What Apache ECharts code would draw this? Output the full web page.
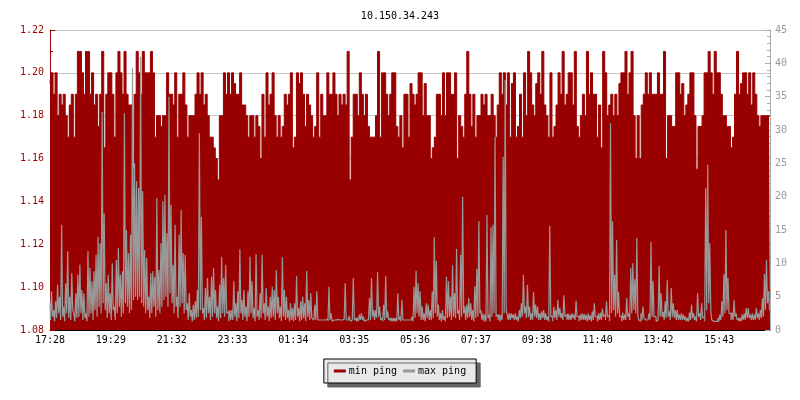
<!DOCTYPE html>
<html>
<head>
<meta charset="utf-8">
<script src="https://cdn.jsdelivr.net/npm/echarts@6/dist/echarts.min.js"></script>
<style>
html,body{margin:0;padding:0;background:#fff;}
#chart{width:800px;height:400px;}
</style>
</head>
<body>
<div id="chart"></div>
<script>
var titleText = "10.150.34.243";
var seriesNames = ["min ping", "max ping"];
var tickLabels = ["17:28","19:29","21:32","23:33","01:34","03:35","05:36","07:37","09:38","11:40","13:42","15:43"];
var tickEvery = 30;

var minPing = [
1.195,1.20,1.19,1.20,1.18,1.19,1.185,1.19,1.18,1.17,
1.185,1.19,1.17,1.19,1.21,1.21,1.20,1.19,1.21,1.21,
1.19,1.20,1.185,1.19,1.175,1.19,1.21,1.165,1.19,1.20,
1.20,1.19,1.17,1.20,1.21,1.20,1.19,1.21,1.19,1.185,
1.185,1.155,1.19,1.21,1.20,1.19,1.21,1.20,1.20,1.20,
1.21,1.20,1.17,1.18,1.18,1.175,1.18,1.18,1.20,1.19,
1.19,1.185,1.20,1.17,1.19,1.19,1.20,1.185,1.17,1.18,
1.18,1.18,1.19,1.20,1.19,1.20,1.185,1.19,1.18,1.17,
1.17,1.165,1.16,1.15,1.18,1.18,1.20,1.19,1.20,1.19,
1.20,1.195,1.19,1.19,1.20,1.185,1.185,1.18,1.17,1.18,
1.18,1.17,1.18,1.175,1.16,1.19,1.17,1.20,1.185,1.19,
1.20,1.18,1.17,1.18,1.17,1.175,1.19,1.185,1.19,1.20,
1.165,1.17,1.20,1.195,1.20,1.19,1.175,1.19,1.185,1.18,
1.17,1.175,1.20,1.17,1.19,1.18,1.18,1.20,1.19,1.19,
1.20,1.19,1.18,1.19,1.185,1.19,1.185,1.21,1.15,1.17,
1.19,1.19,1.18,1.20,1.19,1.18,1.19,1.175,1.17,1.17,
1.17,1.18,1.21,1.17,1.20,1.20,1.19,1.18,1.19,1.20,
1.20,1.175,1.17,1.18,1.165,1.19,1.19,1.17,1.195,1.19,
1.185,1.19,1.20,1.20,1.18,1.195,1.18,1.18,1.16,1.165,
1.17,1.19,1.19,1.18,1.20,1.18,1.20,1.20,1.19,1.19,
1.20,1.16,1.18,1.175,1.17,1.19,1.21,1.19,1.175,1.19,
1.17,1.18,1.18,1.19,1.185,1.19,1.18,1.18,1.19,1.18,
1.17,1.185,1.20,1.19,1.20,1.185,1.20,1.17,1.195,1.20,
1.17,1.175,1.19,1.17,1.20,1.18,1.21,1.20,1.185,1.18,
1.195,1.20,1.19,1.21,1.185,1.18,1.17,1.20,1.17,1.175,
1.185,1.20,1.19,1.21,1.185,1.19,1.20,1.20,1.185,1.21,
1.175,1.17,1.18,1.19,1.18,1.21,1.19,1.20,1.19,1.19,
1.17,1.185,1.165,1.21,1.20,1.18,1.185,1.19,1.18,1.19,
1.18,1.195,1.20,1.20,1.21,1.19,1.20,1.21,1.18,1.16,
1.18,1.16,1.185,1.19,1.20,1.19,1.20,1.19,1.19,1.19,
1.20,1.19,1.19,1.21,1.16,1.18,1.18,1.175,1.175,1.20,
1.20,1.19,1.195,1.18,1.185,1.19,1.20,1.20,1.18,1.155,
1.175,1.175,1.18,1.20,1.20,1.21,1.20,1.19,1.21,1.20,
1.20,1.19,1.18,1.18,1.175,1.175,1.165,1.17,1.19,1.21,
1.19,1.195,1.20,1.20,1.19,1.20,1.185,1.20,1.19,1.18,
1.175,1.18,1.18,1.18,1.18,1.18
];

// max ping: highest reading in each column
var maxPingHigh = [
4,5.8,3,4.3,6.8,5,15.8,3.5,7,11.8,
5,8.5,2.5,5.5,8.3,9.8,6,5.5,2.5,11.8,
9.3,7.3,8.8,11.3,14,13,32.7,17.5,7,8.3,
5.5,10,3.5,10.5,12.3,8.3,8.8,32.5,15,11.5,
14.3,39.3,25,22.3,21.3,41,20.8,12,10.8,5,
8.5,8.8,8,19.8,9,13,19.3,20.3,14.5,35,
18.8,9.8,15.8,5,14.3,18,11.5,11.3,4,5.5,
3,3.8,4.3,6,29.5,17,3.3,6.3,7.8,5,
8,9.3,6,3.5,6.8,11,7.8,9.8,2.8,3,
3,7.3,4,5.8,12.1,4.5,6,3.5,5.8,11,
7.3,3.3,11.4,3,5.5,11.3,4,6.3,3.5,5,
6.5,6,9,5,3.5,10.9,6,5,3,4,
3.3,4,8.1,3.3,4.3,5,4,8.9,4.5,5.5,
1.5,3.8,5.8,1.5,1.5,1.5,1.5,1.7,6.5,2.5,
1.5,1.5,1.6,1.5,1.5,1.6,7,1.5,2.1,1.5,
7.8,1.8,1.8,2.3,2.5,2,1.5,1.5,4.8,7.8,
3,3,8.7,3.5,1.8,3.8,8.1,2.8,1.8,1.8,
1.8,1.8,5.5,2,4.5,1.5,1.5,1.5,1.5,2,
6.5,8.9,7,5.8,3.5,2.5,4,3.8,3,5.8,
13.9,10.4,3.8,2.5,3,2,8,7.3,5,9.7,
5.5,12.2,3,11.3,20,3.5,3.8,4.8,4,3,
6.6,9.2,16.3,3,2.5,2.3,17.3,2.3,15.4,15.8,
29,2.3,2.3,2.3,26,37.5,2.3,2.5,2.5,2.3,
2.5,2,3,4,8.3,3.5,6.8,3.5,2.5,5.7,
3.8,3.5,2.5,2.8,3,2.5,2,15.6,2,3.5,
3,4.5,3.3,2.5,5.2,2.3,2.5,2.3,2.5,2.3,
4.4,2,2.3,2.5,2.4,2.3,2.5,2.2,2.8,4,
2,2.5,2.6,3.2,2.3,4.3,2.2,31,16.3,8.3,
13.5,5.7,2,2.6,2.3,4.8,2.5,9.3,10,7.6,
13.8,1.5,2.5,3.5,1.5,1.5,2.5,13.2,7.4,2,
1.5,9.6,5.5,2.7,4.3,7.5,2.8,6.3,4,3,
3,2.3,2.5,2.3,2,1.8,2.6,3.8,2.5,2,
5.5,2.5,4,2,21.3,24.8,13,1.5,1.5,1.5,
1.8,2.3,4.3,8.4,15,7.8,2.5,2.6,4.5,2.5,
1.8,1.8,2.3,2.5,3.3,3.3,2.3,2.5,2.3,3.3,
2.5,3,4.8,8.4,10.5,5.8
];

// max ping: lowest reading in each column
var maxPingLow = [
1.5,2,1.3,1.8,2.5,1.5,2,1.3,2.5,1.8,
1.5,3,1.3,1.8,2,2.5,1.5,1.8,1.3,2,
2.5,1.5,3,2,3.5,2.5,4,3,1.8,2.5,
1.5,3,1.5,2.5,3.5,2,2.5,4,3.5,2.5,
3,4.5,5,4.5,5,4,3.5,2.5,3,1.8,
2.5,3.5,2,3,2.5,3.5,4.5,5,3.5,5.5,
4,2.5,3.5,1.8,3.5,4,2.5,3,1.5,2,
1.3,1.5,1.8,2,3,2.5,1.5,1.8,2.5,1.5,
2,2.5,1.8,1.3,1.8,2.5,2,2.5,1.3,1.5,
1.5,2,1.3,1.8,2.5,1.5,2,1.3,2,2.5,
1.8,1.3,2,1.5,1.8,2.5,1.5,2,1.3,1.8,
2,1.5,2.5,1.8,1.3,2,1.5,1.8,1.3,1.5,
1.3,1.5,2,1.3,1.5,1.8,1.3,2,1.5,1.8,
1.3,1.5,1.5,1.3,1.3,1.3,1.3,1.3,1.5,1.3,
1.3,1.3,1.3,1.3,1.3,1.3,1.5,1.3,1.3,1.3,
1.5,1.3,1.3,1.5,1.5,1.3,1.3,1.3,1.5,2,
1.5,1.8,2,1.5,1.3,1.5,1.8,1.5,1.3,1.3,
1.3,1.3,1.5,1.3,1.5,1.3,1.3,1.3,1.3,1.3,
1.8,2.5,2,1.5,1.5,1.3,1.8,1.5,1.5,1.8,
2.5,2,1.5,1.3,1.5,1.3,1.8,2,1.5,2,
1.8,2.5,1.5,2,2.5,1.5,1.8,2,1.5,1.3,
1.8,2,2.5,1.5,1.3,1.3,1.8,1.3,2,2.5,
2,1.5,1.3,1.5,2.5,3,1.5,1.5,1.8,1.5,
1.5,1.3,1.8,2,2.5,1.8,2,1.5,1.5,2,
1.8,1.5,1.5,1.8,1.5,1.5,1.3,2,1.3,1.8,
1.5,2,1.8,1.5,2,1.5,1.5,1.5,1.8,1.5,
2,1.3,1.5,1.5,1.5,1.3,1.5,1.3,1.5,2,
1.3,1.5,1.5,2,1.5,2,1.3,2.5,3,2,
2.5,2,1.3,1.5,1.5,2,1.5,2.5,3,2.5,
2,1.3,1.5,1.8,1.3,1.3,1.5,2,2,1.3,
1.3,2,2,1.5,1.8,2,1.5,2,1.8,1.5,
1.5,1.5,1.5,1.5,1.3,1.3,1.5,1.8,1.5,1.3,
2,1.5,1.8,1.3,3,4,3,1.3,1.3,1.3,
1.3,1.5,2,2.5,3,2.5,1.5,1.5,2,1.5,
1.3,1.3,1.5,1.5,1.8,1.8,1.5,1.5,1.5,1.8,
1.5,1.8,2,3,4,3
];

var categories = minPing.map(function (_, i) { return i; });
var maxPingSeries = [];
maxPingHigh.forEach(function (v, i) { maxPingSeries.push(v, maxPingLow[i]); });
var fineCategories = maxPingSeries.map(function (_, i) { return i; });

var RED = "#990000";
var GREY = "#999999";
var FONT = "DejaVu Sans Mono";

var chart = echarts.init(document.getElementById("chart"), null, {renderer: "canvas"});
chart.setOption({
  animation: false,
  backgroundColor: "#ffffff",
  title: {
    text: titleText, left: "center", top: 6,
    textStyle: {fontFamily: FONT, fontSize: 10, fontWeight: "normal", color: "#000"}
  },
  legend: {
    data: seriesNames,
    left: "center", top: 359,
    icon: "rect", itemWidth: 12, itemHeight: 3, itemGap: 6,
    padding: [7, 10],
    backgroundColor: "#e8e8e8", borderColor: "#000", borderWidth: 1,
    shadowColor: "#666666", shadowBlur: 0, shadowOffsetX: 4, shadowOffsetY: 4,
    textStyle: {fontFamily: FONT, fontSize: 10, color: "#000", padding: [0, 0, 0, -2]}
  },
  grid: {left: 50, right: 30, top: 30, bottom: 70, containLabel: false},
  xAxis: [
    {
      type: "category", data: categories, boundaryGap: false,
      axisLine: {lineStyle: {color: "#000", width: 1}},
      axisTick: {inside: true, length: 5, interval: tickEvery - 1, lineStyle: {color: "#000"}},
      axisLabel: {
        interval: tickEvery - 1, margin: 5,
        fontFamily: FONT, fontSize: 10, color: "#000",
        formatter: function (v, i) { return tickLabels[Math.round(i / tickEvery)] || ""; }
      },
      splitLine: {show: false}
    },
    {
      type: "category", data: fineCategories, boundaryGap: false, show: false
    }
  ],
  yAxis: [
    {
      type: "value", min: 1.08, max: 1.22, interval: 0.02, position: "left",
      axisLine: {show: true, lineStyle: {color: RED}},
      axisTick: {show: true, inside: true, length: 5, lineStyle: {color: RED}},
      minorTick: {show: true, splitNumber: 2, length: 3, lineStyle: {color: RED}},
      axisLabel: {fontFamily: FONT, fontSize: 10, color: RED, margin: 6,
        formatter: function (v) { return v.toFixed(2); }},
      splitLine: {show: true, lineStyle: {color: "#c8c8c8", width: 1}}
    },
    {
      type: "value", min: 0, max: 45, interval: 5, position: "right",
      axisLine: {show: true, lineStyle: {color: "#aaaaaa"}},
      axisTick: {show: true, inside: true, length: 5, lineStyle: {color: "#aaaaaa"}},
      minorTick: {show: true, splitNumber: 5, length: 3, lineStyle: {color: "#aaaaaa"}},
      axisLabel: {fontFamily: FONT, fontSize: 10, color: GREY, margin: 5},
      splitLine: {show: false}
    }
  ],
  series: [
    {
      name: seriesNames[0], type: "line", xAxisIndex: 0, yAxisIndex: 0, data: minPing,
      step: "middle", showSymbol: false, symbol: "none",
      lineStyle: {color: RED, width: 1}, itemStyle: {color: RED},
      areaStyle: {color: RED, opacity: 1, origin: "start"}
    },
    {
      name: seriesNames[1], type: "line", xAxisIndex: 1, yAxisIndex: 1, data: maxPingSeries,
      step: "middle", showSymbol: false, symbol: "none",
      lineStyle: {color: GREY, width: 1.2}, itemStyle: {color: GREY}
    }
  ]
});
</script>
</body>
</html>
